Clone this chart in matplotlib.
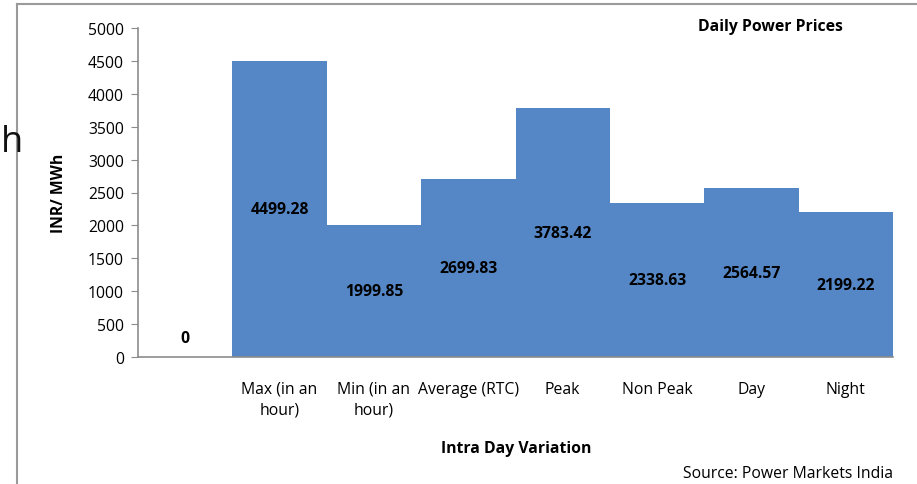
import matplotlib
matplotlib.use("Agg")
import matplotlib.pyplot as plt
from matplotlib.lines import Line2D

categories = ["", "Max (in an\nhour)", "Min (in an\nhour)", "Average (RTC)",
              "Peak", "Non Peak", "Day", "Night"]
prices = [0, 4499.28, 1999.85, 2699.83, 3783.42, 2338.63, 2564.57, 2199.22]
yticks = [0, 500, 1000, 1500, 2000, 2500, 3000, 3500, 4000, 4500, 5000]

plt.rcParams["font.family"] = ["Open Sans", "DejaVu Sans"]
FS = 11.3
W, H = 917, 485
fig = plt.figure(figsize=(W / 100, H / 100), dpi=100)

# chart frame (partly clipped in the screenshot)
fig.add_artist(Line2D([17 / W, 17 / W], [0, 1 - 5 / H], color="#9a9a9a", lw=1.5))
fig.add_artist(Line2D([17 / W, 1], [1 - 5 / H, 1 - 5 / H], color="#9a9a9a", lw=1.5))
# leftover slide text
fig.text(1 / W, 1 - 143 / H, "h", fontsize=26, va="center", ha="left", color="#111111")

ax = fig.add_axes([138 / W, 1 - 358 / H, 755 / W, 329 / H])
x = list(range(len(categories)))
ax.bar(x, prices, width=1.0, color="#5587c6")
ax.set_xlim(-0.5, len(categories) - 0.5)
ax.set_ylim(0, 5000)
ax.set_yticks(yticks)
ax.set_yticklabels([str(t) for t in yticks], fontsize=FS)
ax.set_xticks(x)
ax.set_xticklabels(categories, fontsize=FS, linespacing=1.4)
ax.tick_params(axis="x", length=0, pad=17)
ax.tick_params(axis="y", length=5, color="#8c8c8c", pad=5)
for s in ["top", "right"]:
    ax.spines[s].set_visible(False)
for s in ["left", "bottom"]:
    ax.spines[s].set_color("#8c8c8c")
    ax.spines[s].set_linewidth(1.2)

for xi, v in zip(x, prices):
    yy = v / 2 if v > 0 else 290
    label = f"{v:.2f}" if v > 0 else "0"
    ax.text(xi, yy, label, ha="center", va="center", fontsize=FS, fontweight="bold")

ax.set_ylabel("INR/ MWh", fontsize=FS, fontweight="bold", labelpad=15)
fig.text(770 / W, 1 - 27 / H, "Daily Power Prices", ha="center", va="center",
         fontsize=FS, fontweight="bold")
fig.text(516 / W, 1 - 449 / H, "Intra Day Variation", ha="center", va="center",
         fontsize=FS, fontweight="bold")
fig.text(893 / W, 1 - 474 / H, "Source: Power Markets India", ha="right", va="center",
         fontsize=FS)

fig.savefig("out.png", dpi=100)
